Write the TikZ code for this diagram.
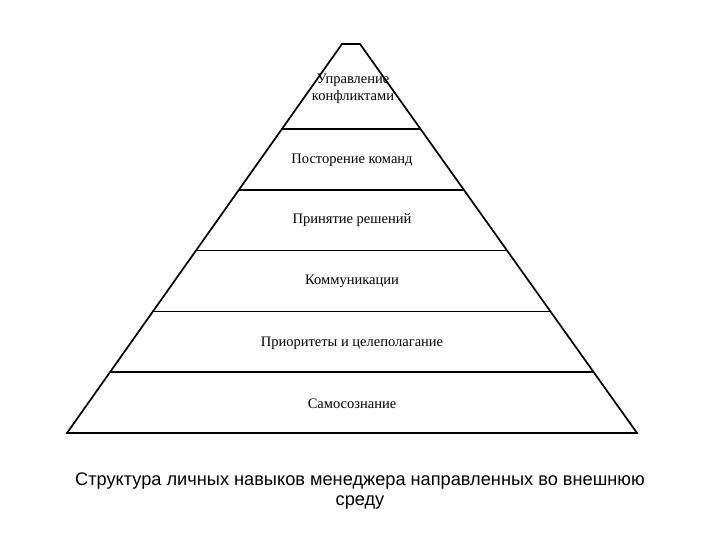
\documentclass[tikz,border=0pt]{standalone}
\usepackage{fontspec}
\setmainfont{Liberation Serif}
\newfontfamily\capfont{Liberation Sans}
\usetikzlibrary{calc}
\tikzset{
  level/.style={font=\fontsize{14.5}{17}\selectfont, align=center},
  caption/.style={font=\capfont\fontsize{18.2}{20.5}\selectfont, align=center}
}
\begin{document}
\begin{tikzpicture}[x=1pt,y=-1pt,line width=1.7pt]
\useasboundingbox (0,0) rectangle (720,540);

    \coordinate (bl) at (67,433);
\coordinate (br) at (637,433);
    \coordinate (tl) at (342,44);
\coordinate (tr) at (360,44);
\draw[line join=miter](bl)--(tl)--(tr)--(br)--cycle;
  \foreach \k in {1,...,5}
{
    \draw ($(bl)!\k*0.1563!(tl)$) -- ($(br)!\k*0.1563!(tr)$);
}

\node[level] (conflict) at (353,89){Управление\\конфликтами};
\node[level] (team) at (352,160){Посторение команд};
\node[level] (decide) at (352,220){Принятие решений};
\node[level] (comm) at (352,281){Коммуникации};
    \node[level] (prior) at (352,343){Приоритеты и целеполагание};
\node[level] (self) at (352,404){Самосознание};

\node[caption] (cap) at (360,491){Структура личных навыков менеджера направленных во внешнюю\\среду};
\end{tikzpicture}
\end{document}
